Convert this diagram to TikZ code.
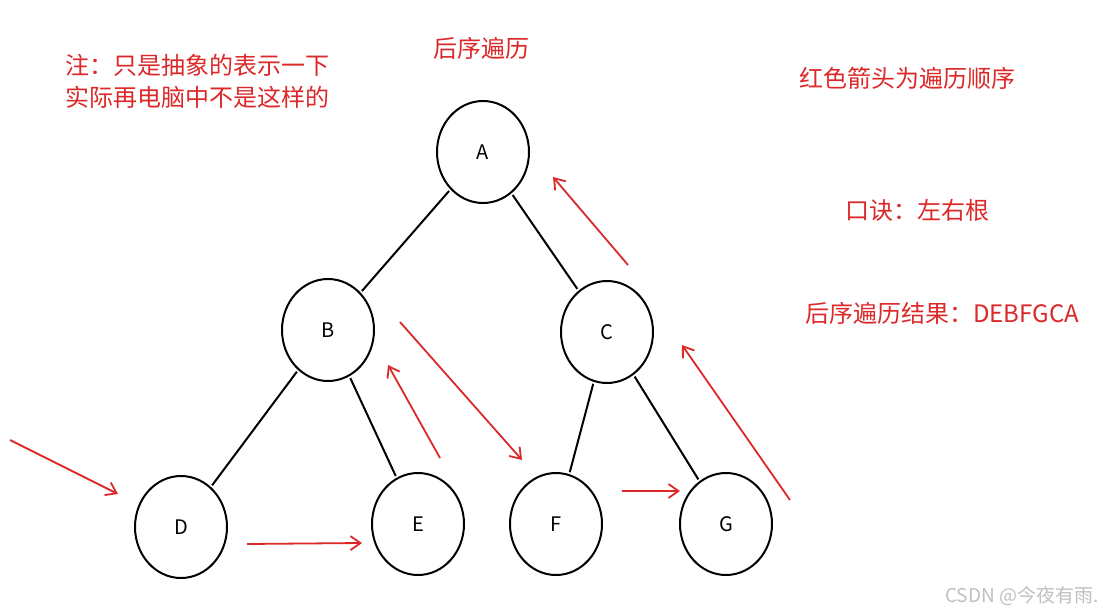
\documentclass[tikz,border=0pt]{standalone}
\usepackage{fontspec}
\setmainfont{Noto Sans CJK SC}
\usetikzlibrary{arrows.meta,shapes.geometric}
\definecolor{note}{RGB}{220,40,40}
\tikzset{
  vert/.style={draw, line width=2pt, ellipse, minimum width=92pt, minimum height=102pt, inner sep=0pt, font=\fontsize{20}{24}\selectfont},
  edge/.style={draw, line width=2pt, shorten <=2pt, shorten >=2pt},
  walk/.style={draw=note, line width=1.8pt, -{Straight Barb[length=10pt,width=14pt]}},
  remark/.style={text=note, font=\fontsize{24}{30}\selectfont, align=left}
}
\begin{document}
\begin{tikzpicture}[x=1pt,y=-1pt]
\useasboundingbox (0,0) rectangle (1114,615);
\node[vert] (A) at (483,152) {A};
\node[vert] (B) at (328,330) {B};
\node[vert] (C) at (607,332) {C};
\node[vert] (D) at (181,527) {D};
\node[vert] (E) at (418,524) {E};
\node[vert] (F) at (556,524) {F};
\node[vert] (G) at (726,524) {G};
\draw[edge] (A) -- (B);
\draw[edge] (A) -- (C);
\draw[edge] (B) -- (D);
\draw[edge] (B) -- (E);
\draw[edge] (C) -- (F);
\draw[edge] (C) -- (G);
% traversal arrows
\coordinate (s1) at (10,440);  \coordinate (t1) at (118,494);
\coordinate (s2) at (247,544); \coordinate (t2) at (362,543);
\coordinate (s3) at (440,458); \coordinate (t3) at (388,365);
\coordinate (s4) at (400,322); \coordinate (t4) at (522,460);
\coordinate (s5) at (622,491); \coordinate (t5) at (680,491);
\coordinate (s6) at (790,500); \coordinate (t6) at (682,345);
\coordinate (s7) at (628,265); \coordinate (t7) at (553,177);
\foreach \i in {1,...,7} \draw[walk] (s\i) -- (t\i);
% notes
\node[remark, anchor=west] (n1) at (62,65) {注：只是抽象的表示一下};
\node[remark, anchor=west] (n2) at (62,97) {实际再电脑中不是这样的};
\node[remark] (title) at (481,48) {后序遍历};
\node[remark] (n3) at (907,78) {红色箭头为遍历顺序};
\node[remark] (n4) at (917,210) {口诀：左右根};
\node[remark] (n5) at (942,313) {后序遍历结果：DEBFGCA};
\node[text=gray!50, font=\fontsize{19}{22}\selectfont] (wm) at (1022,596) {CSDN @今夜有雨.};
\end{tikzpicture}
\end{document}
